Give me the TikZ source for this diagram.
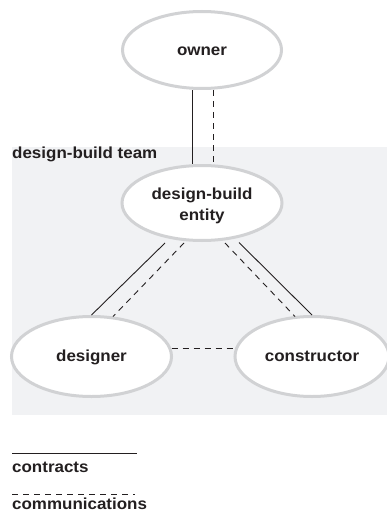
\documentclass[tikz,border=0pt]{standalone}
\usepackage{fontspec}
\setmainfont{Liberation Sans}[FakeStretch=1.06]
\usetikzlibrary{shapes.geometric,calc}
\definecolor{ink}{HTML}{231F20}
\definecolor{ring}{HTML}{D1D2D4}
\definecolor{panel}{HTML}{F1F2F4}
\tikzset{
  party/.style={ellipse, draw=ring, line width=3pt, fill=white, inner sep=0pt,
    text=ink, font=\bfseries\fontsize{16}{21.5}\selectfont, align=center},
  lbl/.style={text=ink, font=\bfseries\fontsize{16}{19}\selectfont, inner sep=0pt, anchor=base west},
  contract/.style={draw=ink, line width=0.9pt},
  comm/.style={draw=ink, line width=0.9pt, dash pattern=on 6pt off 5pt},
}
\begin{document}
\begin{tikzpicture}[x=1pt,y=-1pt]
\useasboundingbox (0,0) rectangle (387,516);
\fill[panel] (12,147) rectangle (387,415);
\node[lbl] (teamlbl) at (12,158) {design-build team};

\node[party, minimum width=159pt, minimum height=77pt, text height=12pt, text depth=0pt] (owner) at (202,50) {owner};
\node[party, minimum width=160pt, minimum height=75pt] (entity) at (202,203) {\rule{0pt}{17.5pt}design-build\\entity};
\node[party, minimum width=160pt, minimum height=80pt, text height=12pt, text depth=2pt] (designer) at (91.5,356.5) {designer};
\node[party, minimum width=154pt, minimum height=80pt, text height=12pt, text depth=2pt] (constructor) at (312,356.5) {constructor};

\draw[contract] ($(owner.south)+(-10,0)$) -- ($(entity.north)+(-10,0)$);
\draw[comm] ($(owner.south)+(11,0)$) -- ($(entity.north)+(11,0)$);

\draw[contract] ($(entity.center)+(-37,40)$) -- (designer.north);
\draw[comm] ($(entity.center)+(-18,40)$) -- ($(designer.center)+(21.5,-40)$);
\draw[comm] ($(entity.center)+(23,40)$) -- ($(constructor.center)+(-17,-40)$);
\draw[contract] ($(entity.center)+(37,39.5)$) -- (constructor.north);

\draw[comm] ($(designer.center)+(80,-8.5)$) -- ($(constructor.center)+(-77,-8.5)$);

\coordinate (c1) at (12,453);
\coordinate (c2) at (137,453);
\coordinate (m1) at (12,494);
\coordinate (m2) at (135,494);
\draw[contract] (c1) -- (c2);
\draw[comm] (m1) -- (m2);
\node[lbl] (contractslbl) at (12,472) {contracts};
\node[lbl] (commlbl) at (12,509) {communications};
\end{tikzpicture}
\end{document}
